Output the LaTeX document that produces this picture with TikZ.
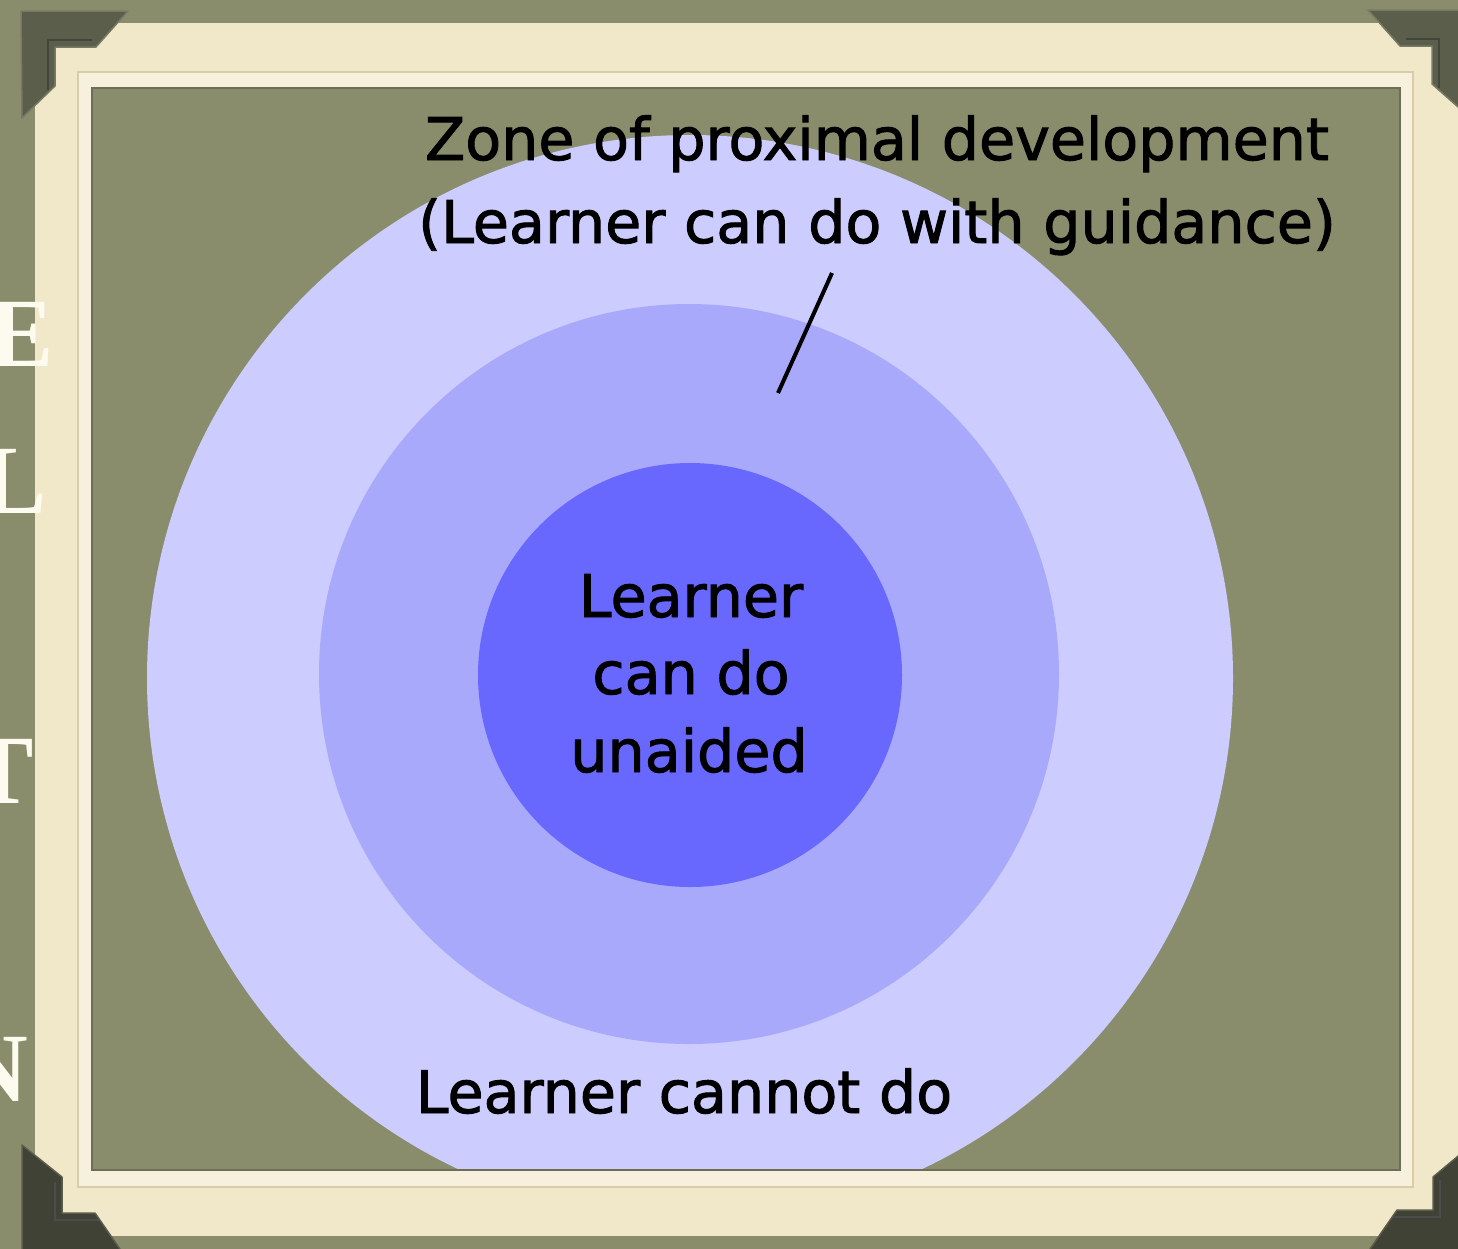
\documentclass[tikz,border=0pt]{standalone}
\usepackage{fontspec}
\newfontfamily\dejavu[FakeBold=1.6]{DejaVu Sans}
\newfontfamily\serifL{Liberation Serif}
\definecolor{olivebg}{HTML}{898D6C}
\definecolor{creamc}{HTML}{F1E7C9}
\definecolor{stripec}{HTML}{F7F0DC}
\definecolor{stripeedge}{HTML}{D8CDAA}
\definecolor{paneledge}{HTML}{6C6F55}
\definecolor{zoneout}{HTML}{CCCCFF}
\definecolor{zonemid}{HTML}{A9A9FC}
\definecolor{zonein}{HTML}{6868FF}
\definecolor{letterwhite}{HTML}{FDFBEF}
\definecolor{bracketc}{HTML}{5A5E4B}
\definecolor{bracketdark}{HTML}{3F4235}
\definecolor{bracketedge}{HTML}{777B66}
\definecolor{groovec}{HTML}{43463A}
\begin{document}
\begin{tikzpicture}[x=1pt,y=-1pt,
  lbl/.style={font=\dejavu\fontsize{58.7}{70}\selectfont, text=black, inner sep=0pt, anchor=base},
  bgletter/.style={font=\serifL\bfseries\fontsize{98}{100}\selectfont, text=letterwhite, inner sep=0pt, anchor=base east},
  bracket/.style={fill=bracketc, draw=bracketedge, line width=1.5pt, line join=round},
  bracketlow/.style={fill=bracketdark, draw=bracketc, line width=1.5pt, line join=round},
  groove/.style={draw=groovec, line width=2.5pt},
  zone/.style={circle, inner sep=0pt, draw=none}]
\useasboundingbox (0,0) rectangle (1458,1248);
% background
\fill[olivebg] (-10,-10) rectangle (1470,1260);
% frame
\fill[creamc] (35,23) rectangle (1475,1236);
\filldraw[fill=stripec, draw=stripeedge, line width=1.5pt] (78,72) rectangle (1413,1187);
\fill[olivebg] (92,88) rectangle (1400,1170);
% circles
\begin{scope}
\clip (92,88) rectangle (1400,1170);
\node[zone, fill=zoneout, minimum size=1086pt] (outer) at (690,678) {};
\node[zone, fill=zonemid, minimum size=740pt] (middle) at (689,674) {};
\node[zone, fill=zonein, minimum size=424pt] (inner) at (690,675) {};
\end{scope}
\draw[paneledge, line width=1.5pt] (92,88) rectangle (1400,1170);
% corner brackets
\filldraw[bracket] (21,11) -- (128,11) -- (96,47) -- (55,47) -- (55,86) -- (22,118) -- cycle;
\draw[groove] (92,40) -- (48,40) -- (48,90);
\filldraw[bracket] (1368,10) -- (1475,10) -- (1475,122) -- (1432,84) -- (1432,46) -- (1400,46) -- cycle;
\draw[groove] (1406,39) -- (1439,39) -- (1439,88);
\filldraw[bracketlow] (22,1145) -- (62,1177) -- (62,1213) -- (95,1213) -- (122,1252) -- (22,1252) -- cycle;
\draw[groove, draw=black!70] (55,1182) -- (55,1220) -- (99,1220);
\filldraw[bracketlow] (1475,1142) -- (1433,1177) -- (1433,1210) -- (1397,1210) -- (1368,1252) -- (1475,1252) -- cycle;
\draw[groove, draw=black!70] (1440,1180) -- (1440,1217) -- (1393,1217);
% letters of the slide behind (drawn over the frame)
\node[bgletter] (lE) at (54,366) {E};
\node[bgletter] (lL) at (47,513) {L};
\node[bgletter] (lT) at (34,803) {T};
\node[bgletter] (lN) at (28,1101) {N};
% texts
\node[lbl] (zpd1) at (877,160) {Zone of proximal development};
\node[lbl] (zpd2) at (877,243) {(Learner can do with guidance)};
\coordinate (ptA) at (832,273);
\coordinate (ptB) at (778,393);
\draw[line width=4pt] (ptA) -- (ptB);
\node[lbl] (in1) at (691,617) {Learner};
\node[lbl] (in2) at (691,694) {can do};
\node[lbl] (in3) at (689,772) {unaided};
\node[lbl] (cannot) at (684,1113) {Learner cannot do};
\end{tikzpicture}
\end{document}
